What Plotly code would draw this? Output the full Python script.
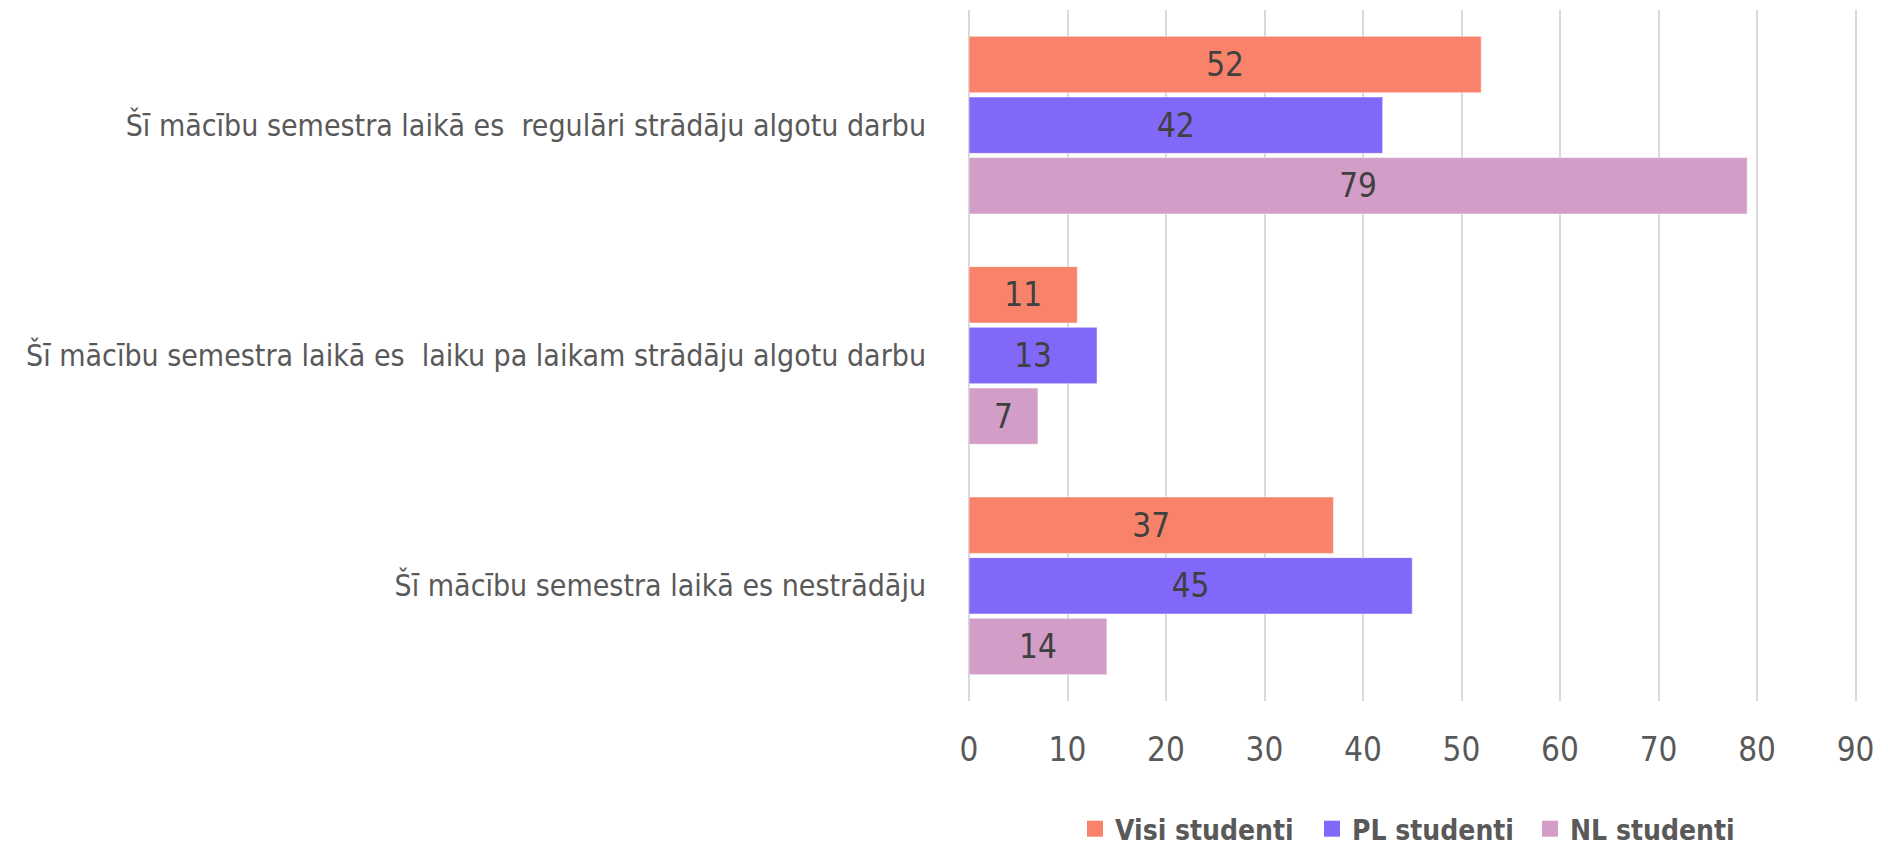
import plotly.graph_objects as go

categories = [
    "Šī mācību semestra laikā es  regulāri strādāju algotu darbu",
    "Šī mācību semestra laikā es  laiku pa laikam strādāju algotu darbu",
    "Šī mācību semestra laikā es nestrādāju",
]
series_names = ["Visi studenti", "PL studenti", "NL studenti"]
visi = [52, 11, 37]
pl = [42, 13, 45]
nl = [79, 7, 14]
colors = ["#F8836A", "#8268F8", "#D29EC8"]
x_ticks = [0, 10, 20, 30, 40, 50, 60, 70, 80, 90]

FONT = "DejaVu Sans Condensed, Liberation Sans Narrow, sans-serif"
W, H = 1888, 847

fig = go.Figure()
for name, vals, col in zip(series_names, [visi, pl, nl], colors):
    fig.add_trace(go.Bar(
        y=categories, x=vals, name=name, orientation="h", showlegend=False,
        marker=dict(color=col, line=dict(color="rgba(255,255,255,0.5)", width=1)),
        text=[str(v) for v in vals], textposition="inside",
        insidetextanchor="middle", textangle=0,
        textfont=dict(family=FONT, size=33, color="#404040"),
    ))

# one legend per series, each placed where the reference shows it
legend_left = [1079, 1316, 1534]
legend_ids = ["legend", "legend2", "legend3"]
for name, col, lid in zip(series_names, colors, legend_ids):
    fig.add_trace(go.Scatter(
        x=[None], y=[None], mode="markers", name=name, legend=lid,
        marker=dict(symbol="square", size=18, color=col),
    ))

legend_common = dict(orientation="h", xanchor="left", xref="container",
                     y=(H - 821) / H, yanchor="middle", yref="container",
                     font=dict(family=FONT, size=28, color="#595959", weight="bold"),
                     itemwidth=30, borderwidth=0, bgcolor="rgba(0,0,0,0)")

fig.update_layout(
    width=W, height=H,
    barmode="group", bargap=0.21, bargroupgap=0.07,
    plot_bgcolor="white", paper_bgcolor="white",
    margin=dict(l=961, r=39, t=2, b=154, autoexpand=False),
    font=dict(family=FONT, color="#595959"),
    showlegend=True,
)
for lid, xl in zip(legend_ids, legend_left):
    fig.update_layout({lid: dict(legend_common, x=(xl - 12) / W)})

fig.update_xaxes(range=[0, 90.15], tickvals=x_ticks, showgrid=True, gridcolor="#D9D9D9",
                 gridwidth=2, zeroline=True, zerolinecolor="#D9D9D9", zerolinewidth=2,
                 tickfont=dict(family=FONT, size=33, color="#595959"),
                 ticks="", ticklabelstandoff=26, showline=False, automargin=False)
fig.update_yaxes(autorange="reversed", tickfont=dict(family=FONT, size=30, color="#595959"),
                 ticks="", ticklabelstandoff=42, showline=False, automargin=False)

fig.write_html("out.html")
